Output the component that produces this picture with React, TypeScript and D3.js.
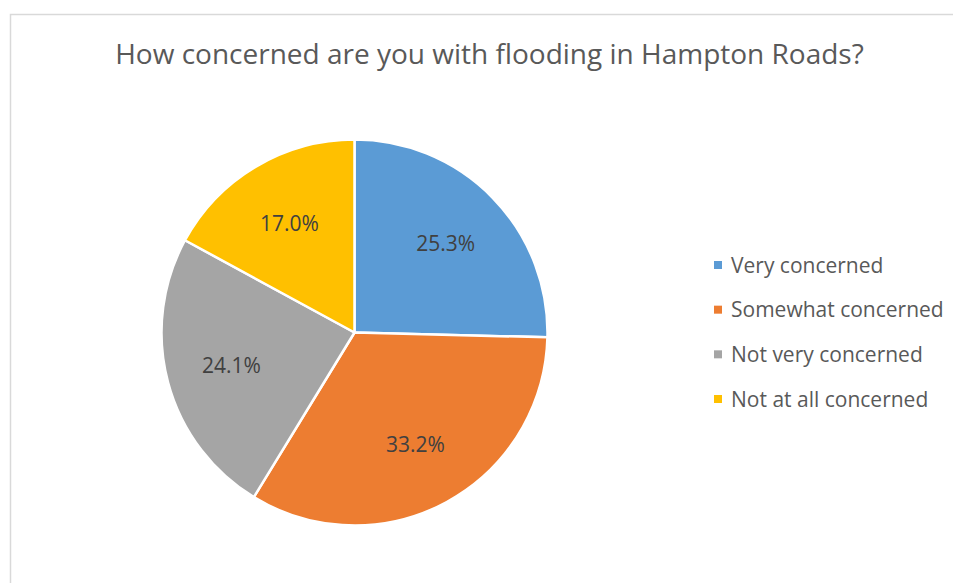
import React from "react";
import * as d3 from "d3";

const title = "How concerned are you with flooding in Hampton Roads?";
const categories = ["Very concerned", "Somewhat concerned", "Not very concerned", "Not at all concerned"];
const values = [25.3, 33.2, 24.1, 17.0];
const labels = ["25.3%", "33.2%", "24.1%", "17.0%"];
const colors = ["#5B9BD5", "#ED7D31", "#A5A5A5", "#FFC000"];

const W = 953;
const H = 583;
const cx = 354.5;
const cy = 332.5;
const R = 193;
const FONT = "'Open Sans', sans-serif";

export default function App() {
  const pie = d3.pie<number>().sort(null).value((d) => d);
  const arcs = pie(values);
  const arcGen = d3.arc<d3.PieArcDatum<number>>().innerRadius(0).outerRadius(R);
  const labelArc = d3.arc<d3.PieArcDatum<number>>().innerRadius(R * 0.66).outerRadius(R * 0.66);
  const legendY = d3.scalePoint<string>().domain(categories).range([265, 399]);

  return (
    <svg width={W} height={H} style={{ position: "absolute", left: 0, top: 0 }} fontFamily={FONT}>
      <rect x={0} y={0} width={W} height={H} fill="#ffffff" />
      <rect x={10.5} y={14.5} width={W + 10} height={H + 10} fill="#ffffff" stroke="#d9d9d9" strokeWidth={1.5} />
      <text x={489.5} y={64} textAnchor="middle" fontSize={28} fill="#595959">
        {title}
      </text>
      <g transform={`translate(${cx},${cy})`}>
        {arcs.map((a, i) => (
          <path key={categories[i]} d={arcGen(a) || ""} fill={colors[i]} stroke="#ffffff" strokeWidth={2.5} strokeLinejoin="round" />
        ))}
        {arcs.map((a, i) => {
          const [lx, ly] = labelArc.centroid(a);
          return (
            <text key={"l" + i} x={lx} y={ly + 7.5} textAnchor="middle" fontSize={21} fill="#404040">
              {labels[i]}
            </text>
          );
        })}
      </g>
      <g>
        {categories.map((c, i) => {
          const y = legendY(c) as number;
          return (
            <g key={c}>
              <rect x={714} y={y - 4} width={8} height={8} fill={colors[i]} />
              <text x={731} y={y + 7.5} fontSize={21} fill="#595959">
                {c}
              </text>
            </g>
          );
        })}
      </g>
    </svg>
  );
}
